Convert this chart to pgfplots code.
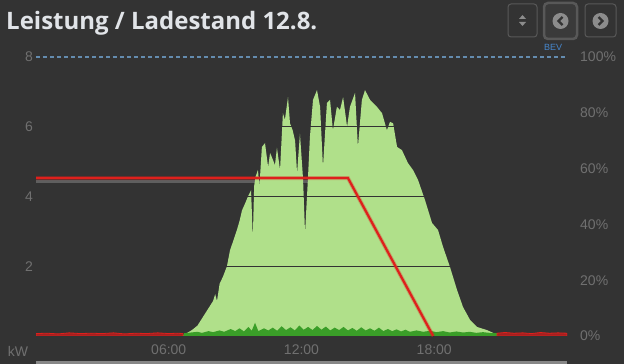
\documentclass[border=0pt]{standalone}
\usepackage{pgfplots}
\pgfplotsset{compat=1.18}
\usepackage{fontspec}
\setmainfont{Liberation Sans}
\newfontfamily\titlefont{Open Sans}
\definecolor{bg}{RGB}{51,51,51}
\definecolor{pvgreen}{RGB}{176,224,138}
\definecolor{selfgreen}{RGB}{58,158,40}
\definecolor{gridred}{RGB}{165,32,32}
\definecolor{socred}{RGB}{222,32,28}
\definecolor{tickgray}{RGB}{112,112,112}
\definecolor{dashblue}{RGB}{100,140,175}
\definecolor{shadowgray}{RGB}{95,95,95}
\definecolor{btnborder}{RGB}{88,88,88}
\definecolor{iconcol}{RGB}{140,140,140}
\definecolor{bevblue}{RGB}{70,135,205}
\begin{document}
\begin{tikzpicture}
\fill[bg] (0,0) rectangle (624bp,364bp);
\begin{axis}[
  at={(36bp,28bp)}, anchor=south west,
  scale only axis, width=531bp, height=279bp,
  xmin=0, xmax=24, ymin=0, ymax=8,
  axis line style={draw=none}, major tick length=0pt,
  xtick={6,12,18}, xticklabels={06:00,12:00,18:00},
  ytick={2,4,6,8}, yticklabels={2,4,6,8},
  ymajorgrids, grid style={bg, line width=1.3bp},
  axis on top,
  tick label style={font=\fontsize{14bp}{16bp}\selectfont, text=tickgray},
  xticklabel style={anchor=center, yshift=-14bp},
  yticklabel style={anchor=east, inner sep=0pt, xshift=-3bp},
]
% shadow under SOC line
\addplot[draw=shadowgray, line width=3bp, forget plot] coordinates {(0,4.44)(14.1,4.44)};
% PV production
\addplot[fill=pvgreen, draw=none] coordinates {
(6.5,0)(6.64,0.02)(7.05,0.17)(7.3,0.3)(7.55,0.55)(7.8,0.8)(8.0,1.0)(8.1,1.2)(8.18,1.0)(8.3,1.5)(8.45,1.7)(8.63,2.0)(8.77,2.46)(8.9,2.7)(9.08,3.04)(9.2,3.3)(9.31,3.6)(9.45,3.8)(9.58,4.0)(9.72,4.18)(9.80,2.8)(9.86,4.3)(9.92,4.56)(10.03,4.76)(10.1,4.3)(10.21,5.42)(10.35,5.53)(10.49,4.85)(10.58,5.25)(10.71,5.05)(10.8,4.9)(10.89,5.4)(11.03,4.76)(11.16,6.39)(11.25,6.2)(11.39,6.85)(11.48,6.1)(11.6,5.9)(11.71,5.6)(11.80,4.67)(11.93,5.8)(12.07,4.5)(12.16,2.95)(12.29,4.5)(12.38,5.7)(12.52,6.77)(12.70,7.05)(12.84,6.57)(12.97,4.85)(13.15,6.68)(13.29,6.77)(13.42,5.9)(13.60,6.57)(13.74,6.48)(13.88,6.85)(14.06,6.0)(14.19,6.57)(14.42,6.97)(14.55,5.42)(14.73,6.77)(14.87,7.05)(15.10,6.77)(15.41,6.57)(15.64,6.39)(15.86,5.9)(16.0,6.14)(16.14,6.1)(16.32,5.42)(16.54,5.33)(16.81,4.96)(17.04,4.76)(17.27,4.47)(17.58,3.9)(17.90,3.24)(18.17,3.04)(18.40,2.55)(18.71,1.98)(19.03,1.32)(19.30,0.83)(19.62,0.46)(19.93,0.26)(20.38,0.17)(20.66,0.09)(20.84,0)
} \closedcycle;
% self consumption
\addplot[fill=selfgreen, draw=none] coordinates {
(6.64,0)(6.7,0.08)(7.0,0.1)(7.3,0.12)(7.5,0.09)(7.8,0.14)(8.0,0.11)(8.3,0.16)(8.5,0.12)(8.8,0.2)(9.0,0.14)(9.2,0.22)(9.4,0.13)(9.6,0.26)(9.75,0.15)(9.9,0.38)(10.05,0.14)(10.3,0.22)(10.5,0.16)(10.7,0.24)(10.9,0.15)(11.1,0.28)(11.3,0.17)(11.5,0.25)(11.7,0.16)(11.9,0.3)(12.1,0.18)(12.3,0.26)(12.5,0.17)(12.7,0.29)(12.9,0.18)(13.1,0.27)(13.3,0.16)(13.5,0.24)(13.7,0.17)(13.9,0.26)(14.1,0.16)(14.3,0.23)(14.5,0.15)(14.7,0.25)(14.9,0.16)(15.1,0.22)(15.3,0.15)(15.5,0.24)(15.7,0.14)(15.9,0.2)(16.1,0.14)(16.3,0.19)(16.5,0.13)(16.7,0.18)(16.9,0.12)(17.2,0.16)(17.5,0.12)(17.8,0.15)(18.1,0.11)(18.4,0.14)(18.7,0.1)(19.0,0.13)(19.3,0.1)(19.6,0.12)(19.9,0.09)(20.2,0.11)(20.5,0.09)(20.84,0.08)(20.84,0)
} \closedcycle;
% grid import
\addplot[fill=gridred, draw=socred, line width=0.8bp] coordinates {
(0,0.07)(0.5,0.08)(1,0.06)(1.5,0.09)(2,0.07)(2.5,0.08)(3,0.07)(3.5,0.09)(4,0.06)(4.5,0.08)(5,0.07)(5.5,0.09)(6,0.07)(6.4,0.08)(6.64,0.07)(6.64,0)
} \closedcycle;
\addplot[fill=gridred, draw=socred, line width=0.8bp] coordinates {
(20.84,0)(20.84,0.08)(21.2,0.1)(21.6,0.08)(22,0.09)(22.4,0.07)(22.8,0.1)(23.2,0.08)(23.6,0.09)(24,0.08)
} \closedcycle;
\end{axis}
\begin{axis}[
  at={(36bp,28bp)}, anchor=south west,
  scale only axis, width=531bp, height=279bp,
  xmin=0, xmax=24, ymin=0, ymax=100,
  axis line style={draw=none}, major tick length=0pt,
  xtick=\empty,
  ytick={0,20,40,60,80,100}, yticklabels={0\%,20\%,40\%,60\%,80\%,100\%},
  yticklabel pos=right,
  tick label style={font=\fontsize{14bp}{16bp}\selectfont, text=tickgray},
  yticklabel style={anchor=west, inner sep=0pt, xshift=13bp},
]
\addplot[draw=dashblue, line width=1.2bp, dash pattern=on 4bp off 3bp] coordinates {(0,100)(24,100)};
\addplot[draw=socred, line width=4bp, opacity=0.3] coordinates {(0,56.6)(14.1,56.6)(17.95,0)};
\addplot[draw=socred, line width=2.2bp] coordinates {(0,56.6)(14.1,56.6)(17.95,0)};
\end{axis}
% kW label
\node[text=tickgray, font=\fontsize{14bp}{16bp}\selectfont] at (18bp,13bp) {kW};
% bottom bar
\draw[draw={rgb,255:red,135;green,135;blue,135}, line width=3bp] (36bp,1.5bp) -- (567bp,1.5bp);
% title
\node[anchor=base west, inner sep=0pt, text={rgb,255:red,225;green,228;blue,232}, font=\titlefont\bfseries\fontsize{24bp}{28bp}\selectfont] at (6bp,334bp) {Leistung / Ladestand 12.8.};
% BEV label
\node[text=bevblue, font=\fontsize{9bp}{10bp}\selectfont, inner sep=0pt] at (553bp,317bp) {BEV};
% buttons
\draw[btnborder, line width=1bp, rounded corners=3bp, fill=bg] (508bp,327bp) rectangle (537bp,360bp);
\fill[iconcol] (519bp,345bp) -- (526bp,345bp) -- (522.5bp,349bp) -- cycle;
\fill[iconcol] (519bp,342bp) -- (526bp,342bp) -- (522.5bp,338bp) -- cycle;
\draw[btnborder, line width=2.5bp, rounded corners=4bp, fill={rgb,255:red,58;green,58;blue,58}] (544bp,325bp) rectangle (577bp,361bp);
\fill[iconcol] (560.5bp,343bp) circle (8bp);
\draw[bg, line width=2.2bp] (562.5bp,347bp) -- (558.5bp,343bp) -- (562.5bp,339bp);
\draw[btnborder, line width=1bp, rounded corners=3bp, fill=bg] (585bp,327bp) rectangle (616bp,360bp);
\fill[iconcol] (600.5bp,343bp) circle (8bp);
\draw[bg, line width=2.2bp] (598.5bp,347bp) -- (602.5bp,343bp) -- (598.5bp,339bp);
\end{tikzpicture}
\end{document}
